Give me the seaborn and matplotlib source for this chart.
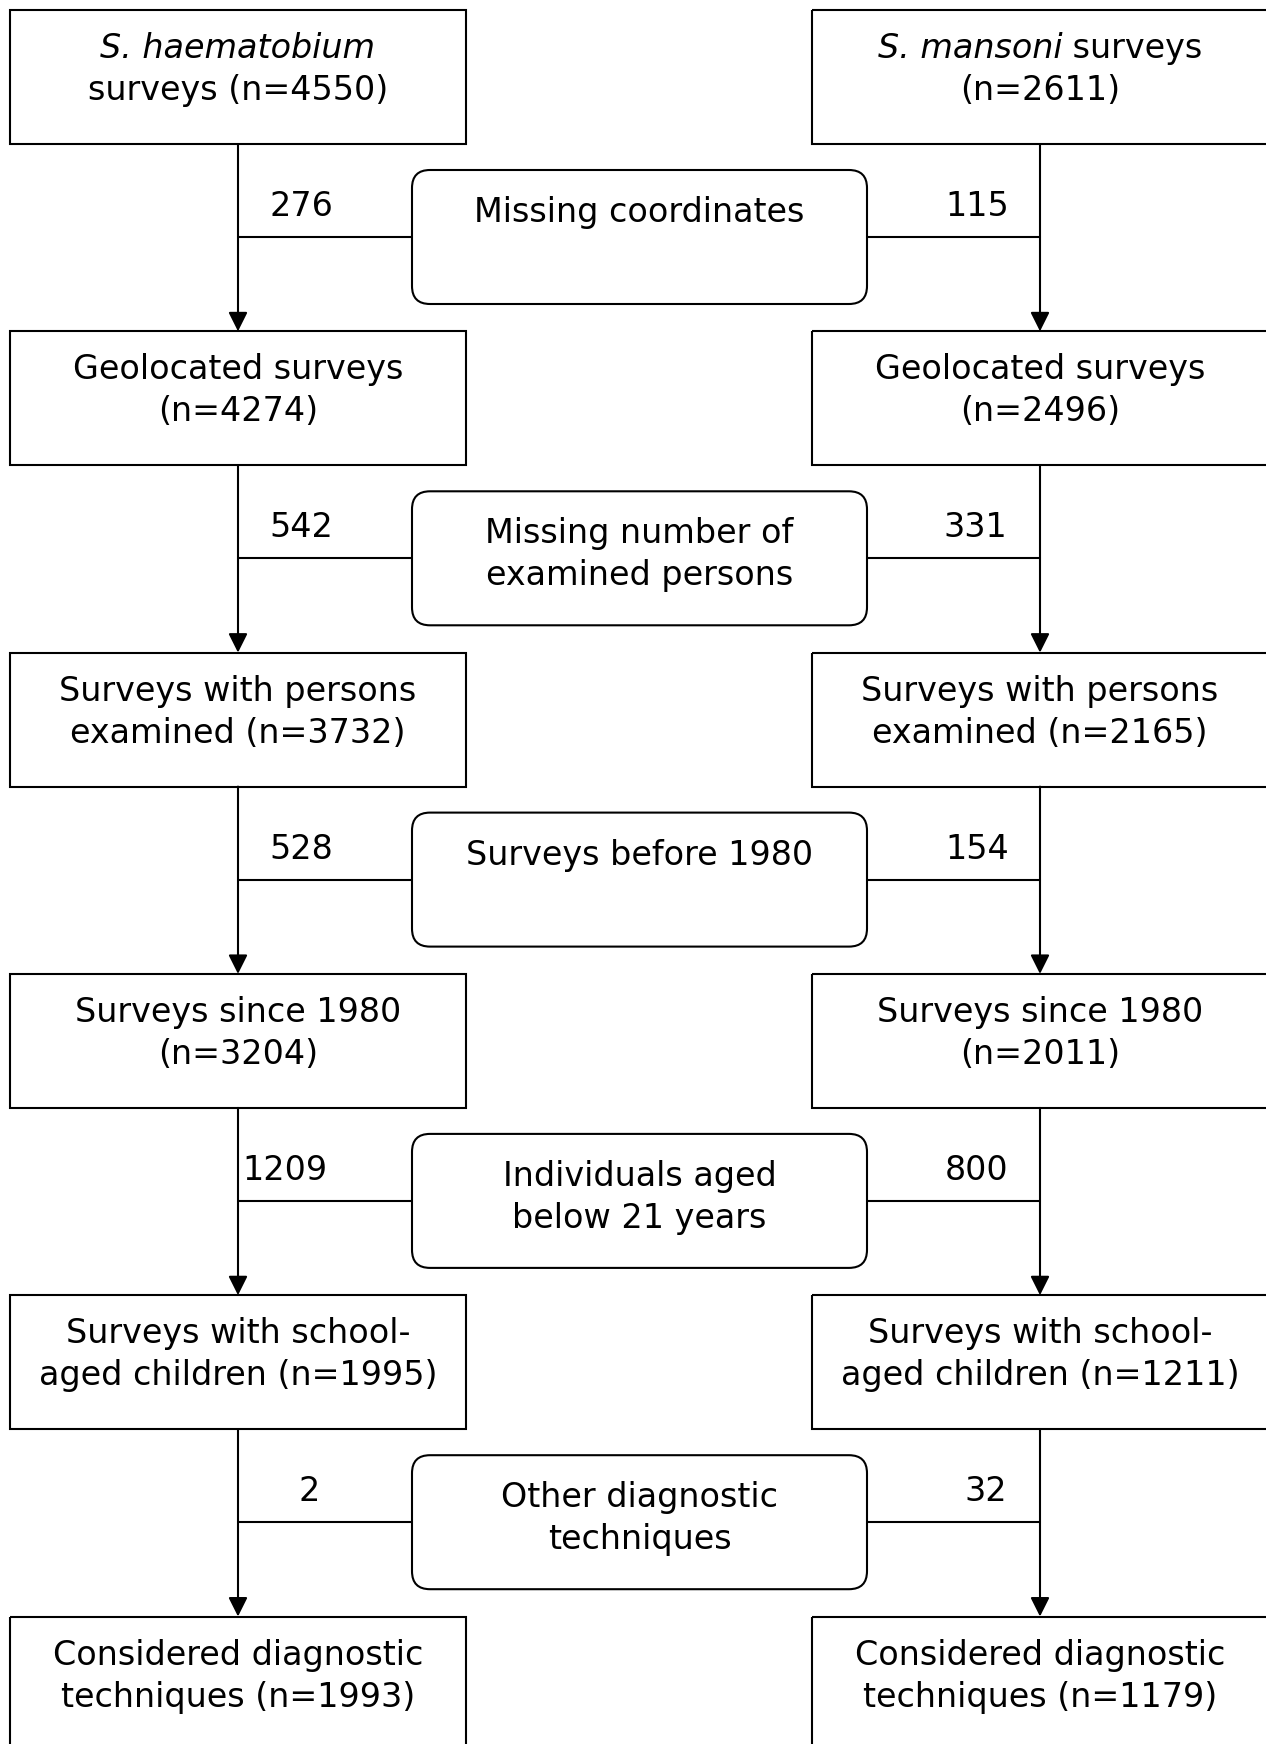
import matplotlib
matplotlib.use('Agg')
import matplotlib.pyplot as plt
from matplotlib.patches import Rectangle, FancyBboxPatch
import seaborn as sns

# flowchart content
species = ['S. haematobium', 'S. mansoni']
left_n = [4550, 4274, 3732, 3204, 1995, 1993]
right_n = [2611, 2496, 2165, 2011, 1211, 1179]
left_excluded = [276, 542, 528, 1209, 2]
right_excluded = [115, 331, 154, 800, 32]

stage_lines = [
    None,
    ['Geolocated surveys', '(n={})'],
    ['Surveys with persons', 'examined (n={})'],
    ['Surveys since 1980', '(n={})'],
    ['Surveys with school-', 'aged children (n={})'],
    ['Considered diagnostic', 'techniques (n={})'],
]
reasons = [
    ['Missing coordinates'],
    ['Missing number of', 'examined persons'],
    ['Surveys before 1980'],
    ['Individuals aged', 'below 21 years'],
    ['Other diagnostic', 'techniques'],
]

# layout (pixels)
W, H = 1266, 1744
ROW_TOP = 10
ROW_STEP = 321.3
BOX_W, BOX_H = 456, 134
COL_X = [238, 1040]
MID_X0, MID_X1 = 412, 867
MID_OFF = 160
LINE_GAP = 42
left_num_x = [301, 301, 301, 285, 309]
right_num_x = [977, 975, 977, 977, 986]

FS = 24
LW = 1.5

sns.set_style('white')
plt.rcParams['font.family'] = ['DejaVu Sans']

fig = plt.figure(figsize=(W / 100, H / 100), dpi=100)
ax = fig.add_axes([0, 0, 1, 1])
ax.set_xlim(0, W)
ax.set_ylim(H, 0)
ax.axis('off')
renderer = fig.canvas.get_renderer()


def mixed_line(cx, y, parts):
    # parts: list of (text, style); drawn side by side, centred on cx
    texts = []
    for txt, style in parts:
        texts.append(ax.text(0, y, txt, ha='left', va='baseline', fontsize=FS,
                             style=style, color='black'))
    widths = []
    for t in texts:
        bb = t.get_window_extent(renderer=renderer)
        widths.append(bb.width)
    x = cx - sum(widths) / 2
    for t, w in zip(texts, widths):
        t.set_x(x)
        x += w


def main_box(cx, top, lines):
    ax.add_patch(Rectangle((cx - BOX_W / 2, top), BOX_W, BOX_H,
                           fill=False, edgecolor='black', lw=LW))
    for i, parts in enumerate(lines):
        mixed_line(cx, top + 48 + i * LINE_GAP, parts)


for r in range(6):
    top = ROW_TOP + r * ROW_STEP
    for c, counts in enumerate([left_n, right_n]):
        if r == 0:
            if c == 0:
                lines = [[(species[0], 'italic')],
                         [('surveys (n={})'.format(counts[0]), 'normal')]]
            else:
                lines = [[(species[1], 'italic'), (' surveys', 'normal')],
                         [('(n={})'.format(counts[0]), 'normal')]]
        else:
            lines = [[(stage_lines[r][0].format(counts[r]), 'normal')],
                     [(stage_lines[r][1].format(counts[r]), 'normal')]]
        main_box(COL_X[c], top, lines)

for r in range(5):
    top = ROW_TOP + r * ROW_STEP
    mtop = top + MID_OFF
    ymid = mtop + BOX_H / 2
    # rounded exclusion box
    ax.add_patch(FancyBboxPatch((MID_X0 + 18, mtop + 18), MID_X1 - MID_X0 - 36, BOX_H - 36,
                                boxstyle='round,pad=18,rounding_size=18',
                                fill=False, edgecolor='black', lw=LW))
    for i, txt in enumerate(reasons[r]):
        ax.text((MID_X0 + MID_X1) / 2, mtop + 52 + i * LINE_GAP, txt,
                ha='center', va='baseline', fontsize=FS, color='black')
    for c in range(2):
        x = COL_X[c]
        ax.annotate('', xy=(x, top + ROW_STEP), xytext=(x, top + BOX_H),
                    arrowprops=dict(arrowstyle='-|>,head_length=0.4,head_width=0.2',
                                    mutation_scale=29, lw=LW, color='black',
                                    shrinkA=0, shrinkB=0))
    ax.plot([COL_X[0], MID_X0], [ymid, ymid], color='black', lw=LW)
    ax.plot([MID_X1, COL_X[1]], [ymid, ymid], color='black', lw=LW)
    ax.text(left_num_x[r], mtop + 46, str(left_excluded[r]), ha='center',
            va='baseline', fontsize=FS, color='black')
    ax.text(right_num_x[r], mtop + 46, str(right_excluded[r]), ha='center',
            va='baseline', fontsize=FS, color='black')

fig.savefig('out.png', dpi=100, facecolor='white')
